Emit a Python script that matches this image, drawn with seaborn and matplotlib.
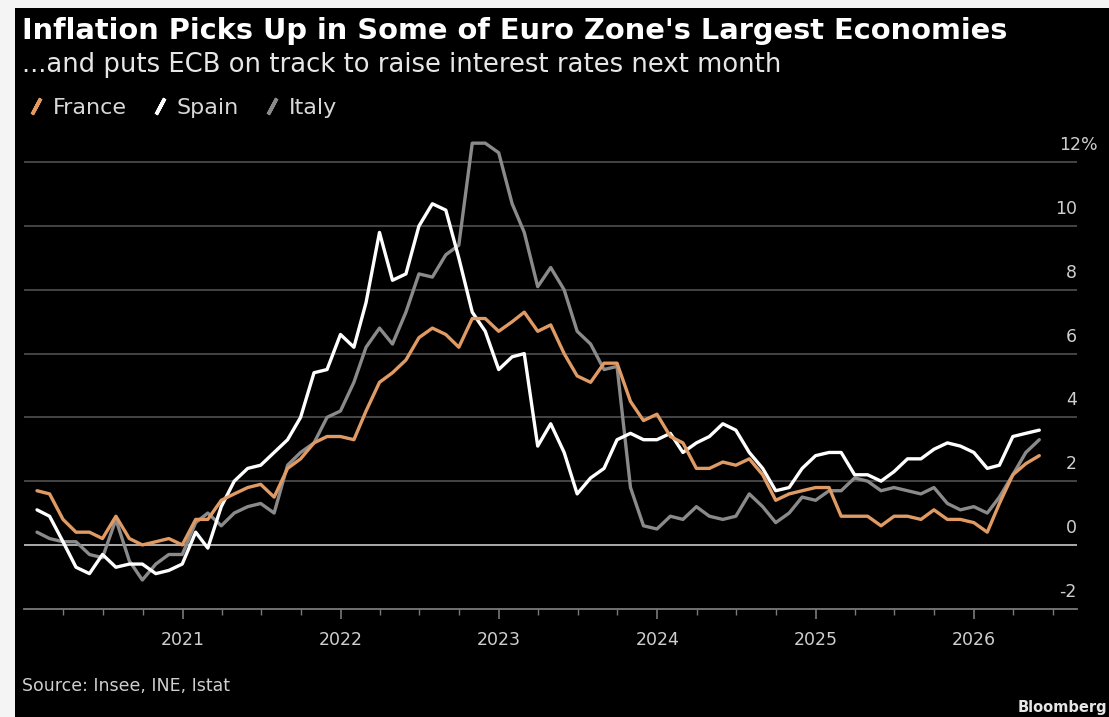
import numpy as np
import pandas as pd
import matplotlib
matplotlib.use("Agg")
import matplotlib.pyplot as plt
import matplotlib.dates as mdates
import matplotlib.transforms as mtransforms
from matplotlib.lines import Line2D
from matplotlib.patches import Rectangle
import seaborn as sns

# ---------------- data (monthly, Jan 2020 - May 2026, % y/y) ----------------
france = [1.7, 1.6, 0.8, 0.4, 0.4, 0.2, 0.9, 0.2, 0.0, 0.1, 0.2, 0.0,
          0.8, 0.8, 1.4, 1.6, 1.8, 1.9, 1.5, 2.4, 2.7, 3.2, 3.4, 3.4,
          3.3, 4.2, 5.1, 5.4, 5.8, 6.5, 6.8, 6.6, 6.2, 7.1, 7.1, 6.7,
          7.0, 7.3, 6.7, 6.9, 6.0, 5.3, 5.1, 5.7, 5.7, 4.5, 3.9, 4.1,
          3.4, 3.2, 2.4, 2.4, 2.6, 2.5, 2.7, 2.2, 1.4, 1.6, 1.7, 1.8,
          1.8, 0.9, 0.9, 0.9, 0.6, 0.9, 0.9, 0.8, 1.1, 0.8, 0.8, 0.7,
          0.4, 1.3, 2.2, 2.55, 2.8]
spain = [1.1, 0.9, 0.1, -0.7, -0.9, -0.3, -0.7, -0.6, -0.6, -0.9, -0.8, -0.6,
         0.4, -0.1, 1.2, 2.0, 2.4, 2.5, 2.9, 3.3, 4.0, 5.4, 5.5, 6.6,
         6.2, 7.6, 9.8, 8.3, 8.5, 10.0, 10.7, 10.5, 9.0, 7.3, 6.7, 5.5,
         5.9, 6.0, 3.1, 3.8, 2.9, 1.6, 2.1, 2.4, 3.3, 3.5, 3.3, 3.3,
         3.5, 2.9, 3.2, 3.4, 3.8, 3.6, 2.9, 2.4, 1.7, 1.8, 2.4, 2.8,
         2.9, 2.9, 2.2, 2.2, 2.0, 2.3, 2.7, 2.7, 3.0, 3.2, 3.1, 2.9,
         2.4, 2.5, 3.4, 3.5, 3.6]
italy = [0.4, 0.2, 0.1, 0.1, -0.3, -0.4, 0.8, -0.5, -1.1, -0.6, -0.3, -0.3,
         0.7, 1.0, 0.6, 1.0, 1.2, 1.3, 1.0, 2.5, 2.9, 3.2, 4.0, 4.2,
         5.1, 6.2, 6.8, 6.3, 7.3, 8.5, 8.4, 9.1, 9.4, 12.6, 12.6, 12.3,
         10.7, 9.8, 8.1, 8.7, 8.0, 6.7, 6.3, 5.5, 5.6, 1.8, 0.6, 0.5,
         0.9, 0.8, 1.2, 0.9, 0.8, 0.9, 1.6, 1.2, 0.7, 1.0, 1.5, 1.4,
         1.7, 1.7, 2.1, 2.0, 1.7, 1.8, 1.7, 1.6, 1.8, 1.3, 1.1, 1.2,
         1.0, 1.5, 2.2, 2.9, 3.3]
countries = ["France", "Spain", "Italy"]
year_labels = ["2021", "2022", "2023", "2024", "2025", "2026"]
y_labels = ["-2", "0", "2", "4", "6", "8", "10", "12%"]
y_values = [-2, 0, 2, 4, 6, 8, 10, 12]

# month-end dates (Bloomberg plots monthly values at period end)
dates = pd.date_range("2020-02-01", periods=len(france), freq="MS") - pd.Timedelta(days=1)
df = pd.DataFrame({
    "date": np.concatenate([dates] * 3),
    "value": france + spain + italy,
    "country": np.repeat(countries, len(dates)),
})

colors = {"France": "#e09a64", "Spain": "#ffffff", "Italy": "#8a8a8a"}

# ---------------- figure ----------------
W, H = 1109, 717
sns.set_theme(style="dark")
plt.rcParams["font.family"] = ["DejaVu Sans"]

fig = plt.figure(figsize=(W / 100, H / 100), dpi=100, facecolor="#f4f4f4")
fig.add_artist(Rectangle((15 / W, 0), 1 - 15 / W, (H - 8) / H,
                         transform=fig.transFigure, facecolor="black",
                         edgecolor="none", zorder=-10))

left, right = 24 / W, 1077 / W
bottom, top = (H - 608.7) / H, (H - 133.6) / H
ax = fig.add_axes([left, bottom, right - left, top - bottom])
ax.set_facecolor("black")

for v in range(0, 13, 2):
    ax.axhline(v, color="#b8b8b8" if v == 0 else "#4a4a4a", lw=1.3, zorder=0.5)

sns.lineplot(data=df, x="date", y="value", hue="country",
             hue_order=["Italy", "Spain", "France"], palette=colors,
             linewidth=2.4, ax=ax, legend=False)

ax.set_ylim(-2, 12.9)
ax.set_xlim(pd.Timestamp("2020-01-01"), pd.Timestamp("2026-08-26"))
ax.set_xlabel("")
ax.set_ylabel("")
ax.grid(False)
ax.set_yticks([])
for s in ["top", "left", "right"]:
    ax.spines[s].set_visible(False)
ax.spines["bottom"].set_color("#7a7a7a")
ax.spines["bottom"].set_linewidth(1.3)

major = [mdates.date2num(pd.Timestamp(f"{y}-01-01")) for y in year_labels]
ax.xaxis.set_major_locator(matplotlib.ticker.FixedLocator(major))
ax.xaxis.set_major_formatter(matplotlib.ticker.FixedFormatter(year_labels))
ax.xaxis.set_minor_locator(mdates.MonthLocator(bymonth=[4, 7, 10]))
ax.tick_params(axis="x", which="major", length=7, width=1.2, color="#7a7a7a",
               labelsize=12.5, labelcolor="#cfcfcf", pad=9, bottom=True)
ax.tick_params(axis="x", which="minor", length=4, width=1.0, color="#7a7a7a", bottom=True)

# right-hand value labels sitting above the gridlines
blend = mtransforms.blended_transform_factory(ax.transAxes, ax.transData)
for v, lab in zip(y_values, y_labels):
    dx = 21 if lab.endswith("%") else 0
    tr = blend + mtransforms.ScaledTranslation(dx / 100, 17 / 100, fig.dpi_scale_trans)
    ax.text(1.0, v, lab, transform=tr, ha="right", va="center",
            fontsize=12.5, color="#cfcfcf", clip_on=False)

# titles
fig.text(22 / W, 1 - 39 / H, "Inflation Picks Up in Some of Euro Zone's Largest Economies",
         fontsize=20.8, weight="bold", color="white", ha="left", va="baseline")
fig.text(22 / W, 1 - 72 / H, "...and puts ECB on track to raise interest rates next month",
         fontsize=18.6, color="#e6e6e6", ha="left", va="baseline")

# legend
handles = [Line2D([], [], linestyle="none", marker=(2, 2, -28), markersize=13,
                  markeredgewidth=2.6, color=colors[c]) for c in countries]
fig.legend(handles, countries, loc="center left", bbox_to_anchor=(27 / W, 1 - 108 / H),
           ncol=3, frameon=False, fontsize=16, labelcolor="#d8d8d8",
           handlelength=0.8, handletextpad=0.35, columnspacing=1.1,
           borderpad=0, borderaxespad=0)

# footer
fig.text(22 / W, 1 - 691 / H, "Source: Insee, INE, Istat", fontsize=12.5,
         color="#cfcfcf", ha="left", va="baseline")
fig.text(1107 / W, 1 - 712 / H, "Bloomberg", fontsize=10.5, weight="bold",
         color="#e6e6e6", ha="right", va="baseline")

fig.savefig("out.png", dpi=100, facecolor=fig.get_facecolor())
